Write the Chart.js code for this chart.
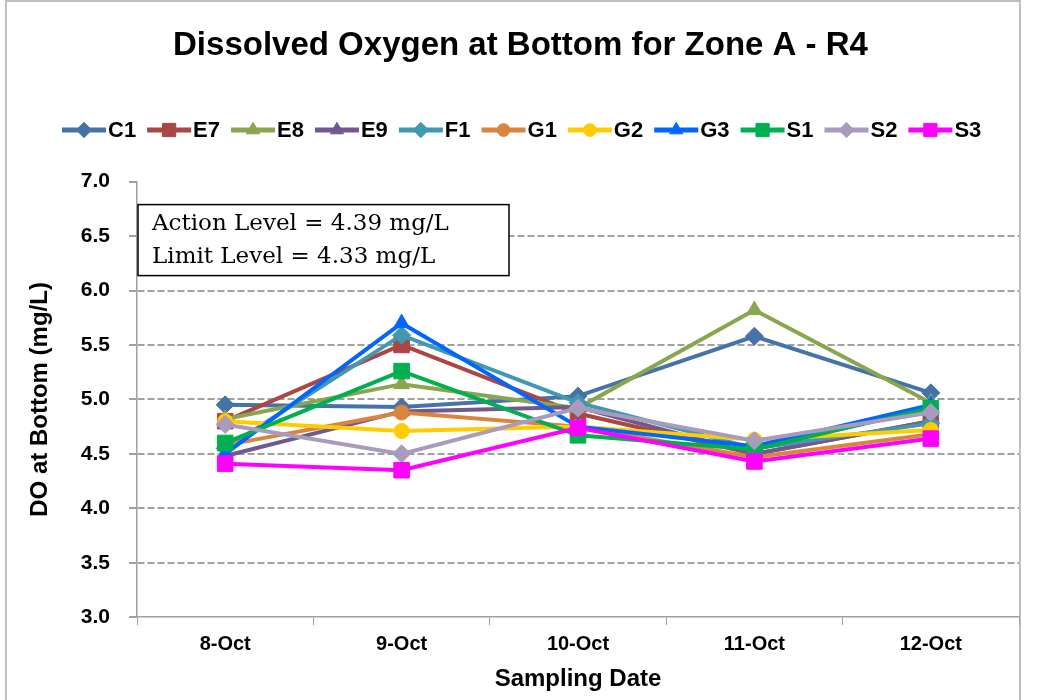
<!DOCTYPE html>
<html>
<head>
<meta charset="utf-8">
<script src="https://cdn.jsdelivr.net/npm/chart.js@4.4.1/dist/chart.umd.min.js"></script>
<style>
  html, body { margin: 0; padding: 0; background: #fff; }
  #wrap { width: 1041px; height: 700px; position: relative; }
</style>
</head>
<body>
<div id="wrap"><canvas id="chart"></canvas></div>
<script>
const dates = ["8-Oct", "9-Oct", "10-Oct", "11-Oct", "12-Oct"];

const c1 = [4.95, 4.93, 5.03, 5.58, 5.06];
const e7 = [4.80, 5.50, 4.87, 4.50, 4.80];
const e8 = [4.82, 5.14, 4.92, 5.82, 4.97];
const e9 = [4.48, 4.89, 4.93, 4.50, 4.80];
const f1 = [4.55, 5.59, 4.97, 4.55, 4.78];
const g1 = [4.58, 4.88, 4.75, 4.47, 4.68];
const g2 = [4.80, 4.71, 4.75, 4.63, 4.72];
const g3 = [4.50, 5.70, 4.75, 4.57, 4.95];
const s1 = [4.60, 5.26, 4.67, 4.54, 4.92];
const s2 = [4.77, 4.50, 4.92, 4.62, 4.88];
const s3 = [4.41, 4.35, 4.74, 4.43, 4.64];

const yTicks = [3.0, 3.5, 4.0, 4.5, 5.0, 5.5, 6.0, 6.5, 7.0];
const noteLines = ["Action Level = 4.39 mg/L", "Limit Level = 4.33 mg/L"];

// name, values, colour, marker
const series = [
  ["C1", c1, "#4572A7", "rectRot"],
  ["E7", e7, "#AA4643", "rect"],
  ["E8", e8, "#89A54E", "triangle"],
  ["E9", e9, "#71588F", "triangle"],
  ["F1", f1, "#4198AF", "rectRot"],
  ["G1", g1, "#DB843D", "circle"],
  ["G2", g2, "#FFCC00", "circle"],
  ["G3", g3, "#0066FF", "triangle"],
  ["S1", s1, "#00B050", "rect"],
  ["S2", s2, "#A99BBD", "rectRot"],
  ["S3", s3, "#FF00FF", "rect"]
];

const markerSize = { rect: 11, rectRot: 9, triangle: 9, circle: 7.5 };
const FONT = "'Liberation Sans', Arial, sans-serif";

const datasets = series.map(([name, values, color, marker], i) => ({
  label: name,
  data: values,
  borderColor: color,
  backgroundColor: color,
  borderWidth: 4,
  pointStyle: marker,
  pointRadius: markerSize[marker],
  pointBorderWidth: 1,
  pointBackgroundColor: color,
  pointBorderColor: color,
  order: series.length - i,
  tension: 0
}));

// draws the outer frame, the limit-level note and the legend (line + marker)
const decorations = {
  id: "decorations",
  beforeDraw(chart) {
    const ctx = chart.ctx;
    ctx.save();
    ctx.strokeStyle = "#bfbfbf";
    ctx.lineWidth = 2;
    ctx.strokeRect(6, 1, 1014, 740);
    ctx.restore();
  },
  afterDraw(chart) {
    const ctx = chart.ctx;
    const area = chart.chartArea;

    ctx.save();
    const bx = area.left + 1, by = area.top + 23;
    ctx.fillStyle = "#fff";
    ctx.fillRect(bx, by, 371, 71);
    ctx.strokeStyle = "#000";
    ctx.lineWidth = 1.5;
    ctx.strokeRect(bx, by, 371, 71);
    ctx.fillStyle = "#000";
    ctx.font = "23px 'DejaVu Serif'";
    ctx.textBaseline = "middle";
    ctx.fillText(noteLines[0], bx + 14, by + 19, 350);
    ctx.fillText(noteLines[1], bx + 14, by + 52, 350);
    ctx.restore();

    ctx.save();
    ctx.font = "bold 22px " + FONT;
    ctx.textBaseline = "middle";
    let x = 62;
    const y = 130;
    chart.data.datasets.forEach((ds) => {
      ctx.strokeStyle = ds.borderColor;
      ctx.lineWidth = 5;
      ctx.beginPath();
      ctx.moveTo(x, y);
      ctx.lineTo(x + 44, y);
      ctx.stroke();
      ctx.fillStyle = ds.backgroundColor;
      ctx.lineWidth = 1;
      Chart.helpers.drawPoint(ctx, {
        pointStyle: ds.pointStyle,
        radius: ds.pointRadius * 0.85,
        borderWidth: 1,
        rotation: 0
      }, x + 22, y);
      ctx.fillStyle = "#000";
      ctx.fillText(ds.label, x + 46, y + 1);
      x += 46 + ctx.measureText(ds.label).width + 11;
    });
    ctx.restore();
  }
};

new Chart(document.getElementById("chart"), {
  type: "line",
  data: { labels: dates, datasets },
  plugins: [decorations],
  options: {
    responsive: true,
    maintainAspectRatio: false,
    animation: false,
    layout: { padding: { left: 22, right: 22, top: 0, bottom: 6 } },
    plugins: {
      tooltip: { enabled: false },
      legend: { display: false },
      title: {
        display: true,
        text: "Dissolved Oxygen at Bottom for Zone A - R4",
        color: "#000",
        font: { family: FONT, size: 33, weight: "bold" },
        padding: { top: 26, bottom: 116 }
      }
    },
    scales: {
      x: {
        offset: true,
        grid: {
          offset: true,
          drawOnChartArea: false,
          drawTicks: true,
          tickLength: 8,
          color: "#a0a0a0"
        },
        border: { color: "#a0a0a0", width: 1.5 },
        ticks: {
          color: "#000",
          padding: 7,
          font: { family: FONT, size: 20, weight: "bold" }
        },
        title: {
          display: true,
          text: "Sampling Date",
          color: "#000",
          padding: { top: 2, bottom: 0 },
          font: { family: FONT, size: 24, weight: "bold" }
        }
      },
      y: {
        min: 3,
        max: 7,
        afterBuildTicks: (scale) => { scale.ticks = yTicks.map(v => ({ value: v })); },
        afterFit: (scale) => { scale.width = 115; },
        grid: {
          color: (ctx) => (ctx.tick && (ctx.tick.value === 7 || ctx.tick.value === 3)) ? "rgba(0,0,0,0)" : "#a0a0a0",
          tickColor: "#a0a0a0",
          lineWidth: 2,
          tickLength: 8
        },
        border: { color: "#a0a0a0", width: 1.5, dash: [7, 3] },
        ticks: {
          color: "#000",
          padding: 19,
          callback: (v) => Number(v).toFixed(1),
          font: { family: FONT, size: 21, weight: "bold" }
        },
        title: {
          display: true,
          text: "DO at Bottom (mg/L)",
          color: "#000",
          padding: { top: 4, bottom: 4 },
          font: { family: FONT, size: 24, weight: "bold" }
        }
      }
    }
  }
});
</script>
</body>
</html>
